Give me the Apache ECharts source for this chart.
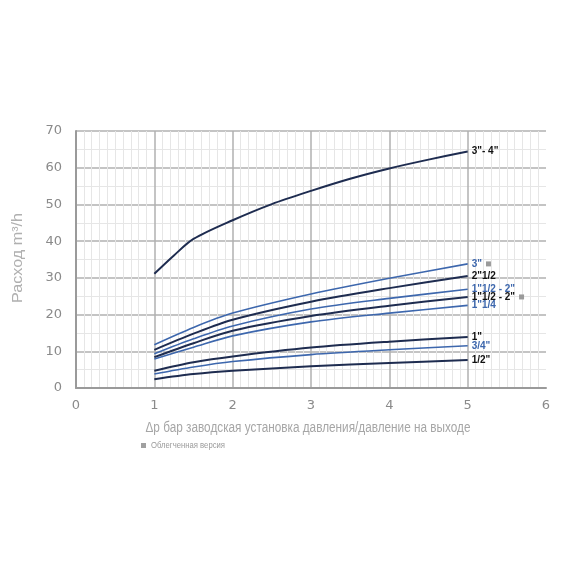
<!DOCTYPE html>
<html><head><meta charset="utf-8">
<script src="https://cdn.jsdelivr.net/npm/echarts@6/dist/echarts.min.js"></script>
<style>html,body{margin:0;padding:0;background:#fff}#c{width:570px;height:570px}</style>
</head><body><div id="c"></div>
<script>
var xs = [1, 1.5, 2, 3, 4, 5];
var xsBig = [1, 1.25, 1.5, 2, 2.5, 3, 3.5, 4, 4.5, 5];
var s34 = [31.1, 36.1, 40.6, 45.7, 50.1, 53.7, 57.0, 59.8, 62.2, 64.4];
var s3 = [11.8, 16.5, 20.4, 25.6, 29.9, 33.8];
var s212 = [10.4, 14.8, 18.6, 23.5, 27.2, 30.5];
var s112b = [9.3, 13.4, 16.9, 21.5, 24.4, 26.9];
var s112d = [8.4, 12.2, 15.6, 19.6, 22.4, 24.8];
var s114 = [7.9, 11.1, 14.2, 18.0, 20.4, 22.5];
var s1 = [4.7, 7.0, 8.6, 11.0, 12.6, 13.9];
var s34in = [3.8, 5.7, 7.2, 9.1, 10.4, 11.5];
var s12 = [2.4, 3.8, 4.7, 5.9, 6.8, 7.6];
var names = ['3"- 4"', '3"', '2"1/2', '1"1/2 - 2"', '1"1/2 - 2"', '1"1/4', '1"', '3/4"', '1/2"'];
var light = [false, true, false, false, true, false, false, false, false];
var xTicks = [0, 1, 2, 3, 4, 5, 6];
var yTicks = [0, 10, 20, 30, 40, 50, 60, 70];
var xTitle = 'Δр бар заводская установка давления/давление на выходе';
var yTitle = 'Расход m³/h';
var noteText = 'Облегченная версия';

var DARK = '#1e2c50', BLUE = '#3d67ad';
var kinds = ['d', 'b', 'd', 'b', 'd', 'b', 'd', 'b', 'd'];
var vals = [s34, s3, s212, s112b, s112d, s114, s1, s34in, s12];

function pairs(x, y) { return x.map(function (v, i) { return [v, y[i]]; }); }

var cv = document.createElement('canvas').getContext('2d');
function fitScale(text, font, target) {
  cv.font = font;
  return target / cv.measureText(text).width;
}
var TF = '14px "Liberation Sans", Arial, sans-serif';
var NF = '9px "Liberation Sans", Arial, sans-serif';

var series = vals.map(function (v, i) {
  var dark = kinds[i] === 'd';
  var xArr = i === 0 ? xsBig : xs;
  return {
    type: 'line', data: pairs(xArr, v), smooth: 0.3, symbol: 'none',
    lineStyle: { color: dark ? DARK : BLUE, width: dark ? 2 : 1.6 },
    z: dark ? 3 : 2,
    endLabel: {
      show: true, distance: 4,
      formatter: function () { return '{t|' + names[i] + '}' + (light[i] ? '{g|}{sq|}' : ''); },
      rich: {
        t: { fontFamily: '"Liberation Sans", Arial, sans-serif', fontWeight: 'bold', fontSize: 10, color: dark ? '#111' : BLUE },
        g: { width: 4 },
        sq: { width: 5, height: 5, backgroundColor: '#9a9a9a' }
      }
    }
  };
});

var chart = echarts.init(document.getElementById('c'));
chart.setOption({
  animation: false,
  backgroundColor: '#fff',
  grid: { left: 76, right: 24, top: 131, bottom: 182 },
  xAxis: {
    type: 'value', min: xTicks[0], max: xTicks[xTicks.length - 1], interval: 1,
    axisLine: { show: true, lineStyle: { color: '#9a9a9a', width: 2 } },
    axisTick: { show: false },
    axisLabel: { fontFamily: 'DejaVu Sans, sans-serif', fontSize: 13, color: '#8a8a8a', margin: 11 },
    splitLine: { show: true, showMaxLine: false, lineStyle: { color: '#b0b0b0', width: 1.5 } },
    minorTick: { show: false, splitNumber: 10 },
    minorSplitLine: { show: true, lineStyle: { color: '#e6e6e6', width: 1 } }
  },
  yAxis: {
    type: 'value', min: yTicks[0], max: yTicks[yTicks.length - 1], interval: 10,
    axisLine: { show: true, lineStyle: { color: '#9a9a9a', width: 2 } },
    axisTick: { show: false },
    axisLabel: { fontFamily: 'DejaVu Sans, sans-serif', fontSize: 13, color: '#8a8a8a', margin: 14 },
    splitLine: { show: true, lineStyle: { color: '#b0b0b0', width: 1.5 } },
    minorTick: { show: false, splitNumber: 2 },
    minorSplitLine: { show: true, lineStyle: { color: '#e6e6e6', width: 1 } }
  },
  graphic: [
    { type: 'text', x: 308, y: 428, scaleX: fitScale(xTitle, TF, 325), z: 10,
      style: { text: xTitle, font: TF, fill: '#a6a6a6', align: 'center', verticalAlign: 'middle' } },
    { type: 'text', x: 18, y: 258, rotation: Math.PI / 2, scaleX: fitScale(yTitle, TF, 90), z: 10,
      style: { text: yTitle, font: TF, fill: '#b0b0b0', align: 'center', verticalAlign: 'middle' } },
    { type: 'rect', shape: { x: 141, y: 443, width: 5, height: 5 }, style: { fill: '#a0a0a0' } },
    { type: 'text', x: 151, y: 446, scaleX: fitScale(noteText, NF, 74), z: 10,
      style: { text: noteText, font: NF, fill: '#9a9a9a', align: 'left', verticalAlign: 'middle' } }
  ],
  series: series
});
</script></body></html>
